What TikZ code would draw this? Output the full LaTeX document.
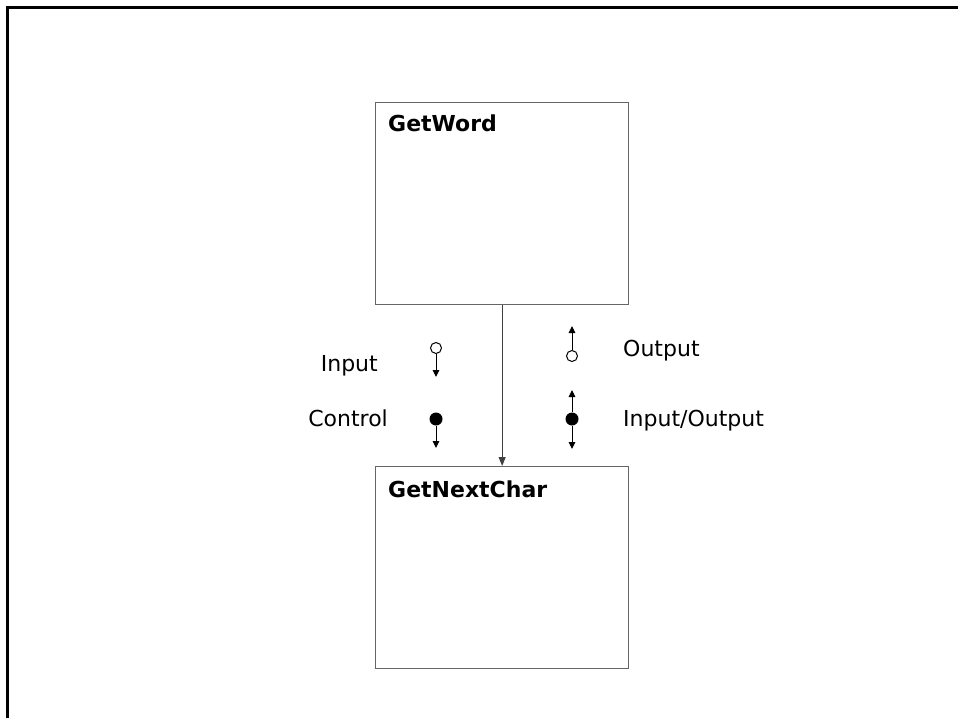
\documentclass[tikz,border=0pt]{standalone}
\usepackage{fontspec}
\setmainfont{DejaVu Sans}
\usetikzlibrary{arrows.meta}
\begin{document}
\begin{tikzpicture}[x=1pt,y=-1pt,
  box/.style={draw=black!60, line width=1.3pt, inner sep=0pt, anchor=north west, minimum width=253pt, minimum height=202pt},
  lbl/.style={inner sep=0pt, font=\fontsize{22}{26}\selectfont},
  ttl/.style={anchor=base west, inner sep=0pt, font=\fontsize{22}{26}\selectfont\bfseries},
  conn/.style={draw=black!75, line width=1pt, -{Triangle[length=9pt,width=7pt]}},
  sym/.style={line width=1pt, -{Triangle[length=7pt,width=6.5pt]}},
  opencirc/.style={circle, draw, line width=1pt, fill=white, inner sep=0pt, minimum size=11pt},
  fillcirc/.style={circle, fill=black, inner sep=0pt, minimum size=13pt}
]
\useasboundingbox (0,0) rectangle (958,718);
\draw[line width=3pt] (7,718) -- (7,7) -- (958,7);

\node[box] (getword) at (375,102) {};
\node[ttl] (getwordt) at (388,131) {GetWord};
\node[box] (getnext) at (375,466) {};
\node[ttl] (getnextt) at (388,497) {GetNextChar};
\draw[conn] (getword.south) -- (getnext.north);

% Input
\node[opencirc] (inc) at (436,348) {};
\coordinate (intip) at (436,377);
\draw[sym] (inc) -- (intip);
\node[lbl, anchor=base east] (inl) at (378,371) {Input};

% Control
\node[fillcirc] (ctc) at (436,419) {};
\coordinate (cttip) at (436,448);
\draw[sym] (ctc) -- (cttip);
\node[lbl, anchor=base east] (ctl) at (388,426) {Control};

% Output
\node[opencirc] (outc) at (572,356) {};
\coordinate (outtip) at (572,326);
\draw[sym] (outc) -- (outtip);
\node[lbl, anchor=base west] (outl) at (623,356) {Output};

% Input/Output
\node[fillcirc] (ioc) at (572,419) {};
\coordinate (iotipu) at (572,390);
\coordinate (iotipd) at (572,449);
\draw[sym] (ioc) -- (iotipu);
\draw[sym] (ioc) -- (iotipd);
\node[lbl, anchor=base west] (iol) at (623,426) {Input/Output};
\end{tikzpicture}
\end{document}
